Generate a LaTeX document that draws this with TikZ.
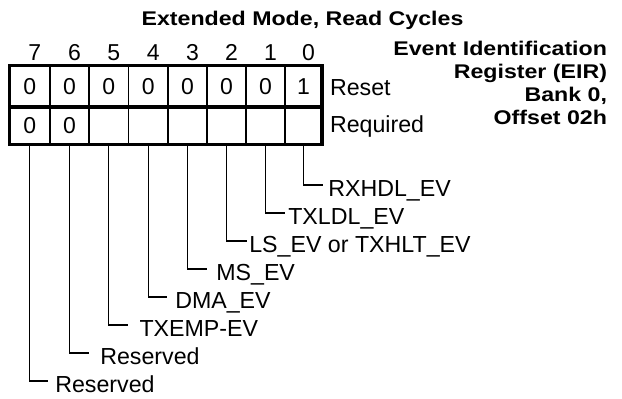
\documentclass[tikz,border=0pt]{standalone}
\usepackage{fontspec}
\setmainfont{Liberation Sans}
\begin{document}
\begin{tikzpicture}[x=1pt,y=-1pt,
  every node/.style={inner sep=0pt, outer sep=0pt},
  lbl/.style={anchor=base west, font=\fontsize{23.2}{27}\selectfont},
  bitnum/.style={anchor=base, font=\fontsize{23}{27}\selectfont},
  cell/.style={draw=black, line width=1.2pt, font=\fontsize{23}{27}\selectfont},
  boldtxt/.style={anchor=base east, font=\fontsize{19.8}{23}\selectfont\bfseries},
  frame/.style={line width=3.5pt},
  leader/.style={line width=1.1pt}]
\useasboundingbox (0,0) rectangle (622,399);

% register cells
\foreach \b/\l/\r/\rv/\qv in {7/9.3/50/0/0, 6/50/89/0/0, 5/89/128.7/0/{}, 4/128.7/168/0/{},
  3/168/207/0/{}, 2/207/246/0/{}, 1/246/285/0/{}, 0/285/322/1/{}}{
  \pgfmathsetmacro\w{\r-\l}
  \pgfmathsetmacro\cx{(\l+\r)/2}
  \node[cell, minimum width=\w pt, minimum height=41.7pt] (r\b) at (\cx,86.15) {\rv};
  \node[cell, minimum width=\w pt, minimum height=37.3pt] (q\b) at (\cx,125.65) {\qv};
  \node[bitnum] (n\b) at (\cx+5,60) {\b};
}
\draw[frame] (r7.north west) rectangle (q0.south east);
\draw[frame] (r7.south west) -- (r0.south east);

\node[lbl] (reset) at (330,95) {Reset};
\node[lbl] (req) at (330,132) {Required};

% field leaders
\foreach \b/\y/\ex/\tx/\t in {0/185/323/328.3/RXHDL\_EV, 1/213/285/288.3/TXLDL\_EV,
  2/241/247/249.3/LS\_EV or TXHLT\_EV, 3/269/207/216.3/MS\_EV, 4/297/167/175.3/DMA\_EV,
  5/325/128.3/139.5/TXEMP-EV, 6/353/89.3/100.3/Reserved, 7/381/48.3/55.3/Reserved}{
  \coordinate (e\b) at (\ex,\y);
  \node[lbl] (l\b) at (\tx,\y+11.7) {\t};
  \draw[leader] (q\b.south) |- (e\b);
}

% titles
\node[boldtxt, anchor=base] (title) at (302.5,25.7) {\scalebox{1.17}[1]{Extended Mode, Read Cycles}};
\node[boldtxt] (t1) at (607,55.7) {\scalebox{1.17}[1]{Event Identification}};
\node[boldtxt] (t2) at (607,78.6) {\scalebox{1.17}[1]{Register (EIR)}};
\node[boldtxt] (t3) at (607,101.5) {\scalebox{1.17}[1]{Bank 0,}};
\node[boldtxt] (t4) at (607,124.4) {\scalebox{1.17}[1]{Offset 02h}};
\end{tikzpicture}
\end{document}
